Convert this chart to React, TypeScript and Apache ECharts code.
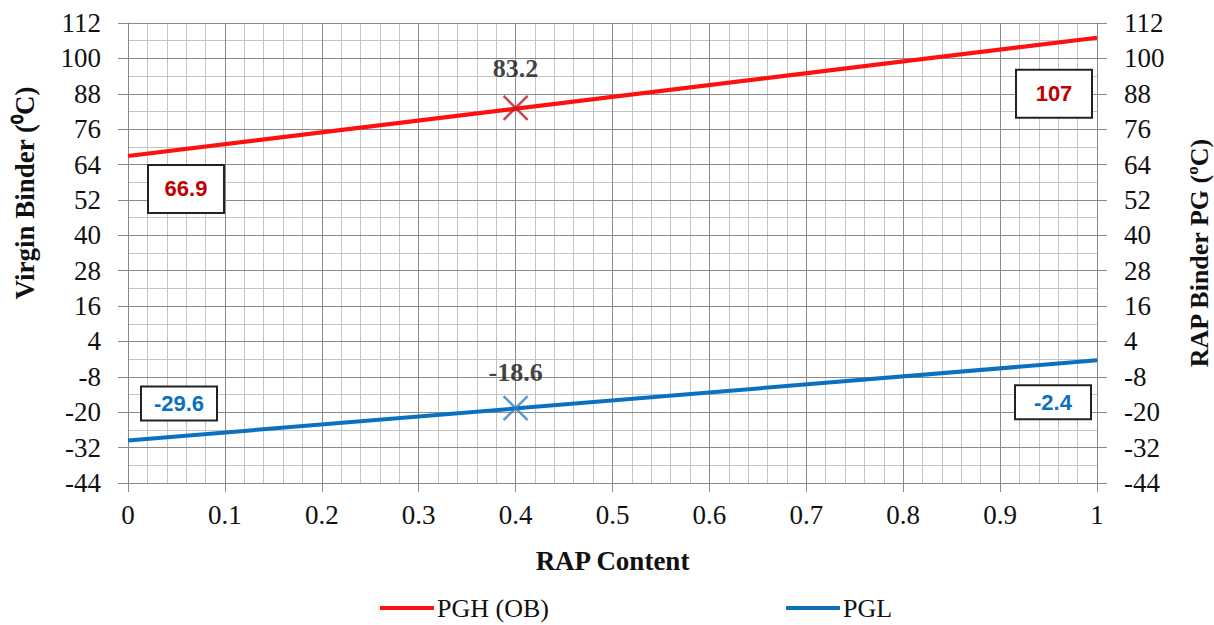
import React, { useEffect, useRef } from "react";
import * as echarts from "echarts";

const xEnds = [0, 1];
const pghEnds = [66.9, 107];
const pglEnds = [-29.6, -2.4];
const markX = 0.4;
const pghMark = 83.2;
const pglMark = -18.6;
const yTicks = [-44, -32, -20, -8, 4, 16, 28, 40, 52, 64, 76, 88, 100, 112];
const seriesNames = ["PGH (OB)", "PGL"];

const RED = "#FF1010";
const RED_TXT = "#C00000";
const RED_X = "#C0141E";
const BLUE = "#0A70C0";
const BLUE_X = "#2E80C8";
const SERIF = "'Liberation Serif', 'Times New Roman', serif";
const SANS = "'Liberation Sans', Arial, sans-serif";

function boxLabel(color: string, offset: number[], h: number) {
  return {
    show: true,
    position: "inside",
    offset,
    formatter: (p: any) => String(p.value[1]),
    color,
    fontFamily: SANS,
    fontWeight: "bold",
    fontSize: 22,
    width: 74,
    height: h,
    lineHeight: h,
    align: "center",
    verticalAlign: "middle",
    borderColor: "#222",
    borderWidth: 2,
    backgroundColor: "#fff",
    padding: 0,
  };
}

export default function App() {
  const ref = useRef<HTMLDivElement>(null);
  useEffect(() => {
    const chart = echarts.init(ref.current!, null, { renderer: "svg" });
    const pghOffsets = [[58, 33], [-43, 56]];
    const pglOffsets = [[51, -37], [-44, 42]];
    const yMin = yTicks[0];
    const yMax = yTicks[yTicks.length - 1];
    const yStep = yTicks[1] - yTicks[0];
    const hidden = { show: false };
    const yAxisBase = (pos: string) => ({
      type: "value",
      position: pos,
      min: yMin,
      max: yMax,
      interval: yStep,
      z: 2,
      axisLine: { show: true, onZero: false, lineStyle: { color: "#888", width: 1 } },
      axisTick: { show: true, length: 10, lineStyle: { color: "#888" } },
      axisLabel: { color: "#111", fontFamily: SERIF, fontSize: 27, margin: 27 },
      splitLine: { show: pos === "left", lineStyle: { color: "#8a8a8a", width: 1 } },
    });
    chart.setOption({
      animation: false,
      backgroundColor: "#fff",
      grid: { left: 128, right: 117, top: 23, bottom: 142, containLabel: false },
      xAxis: [
        {
          type: "value",
          min: 0,
          max: 1,
          interval: 0.1,
          z: 2,
          axisLine: { show: true, onZero: false, lineStyle: { color: "#888", width: 1 } },
          axisTick: { show: true, length: 9, lineStyle: { color: "#888" } },
          axisLabel: {
            color: "#111",
            fontFamily: SERIF,
            fontSize: 27,
            margin: 18,
            formatter: (v: number) => String(Math.round(v * 10) / 10),
          },
          splitLine: { show: true, lineStyle: { color: "#8a8a8a", width: 1 } },
          name: "RAP Content",
          nameLocation: "middle",
          nameGap: 64,
          nameTextStyle: { color: "#111", fontFamily: SERIF, fontWeight: "bold", fontSize: 27 },
        },
        {
          type: "value",
          min: 0,
          max: 1,
          interval: 0.02,
          z: 1,
          axisLine: { show: false, onZero: false },
          axisTick: hidden,
          axisLabel: hidden,
          splitLine: { show: true, lineStyle: { color: "#c4c4c4", width: 1 } },
        },
      ],
      yAxis: [
        yAxisBase("left"),
        yAxisBase("right"),
        {
          type: "value",
          min: yMin,
          max: yMax,
          interval: yStep / 2,
          z: 1,
          axisLine: { show: false, onZero: false },
          axisTick: hidden,
          axisLabel: hidden,
          splitLine: { show: true, lineStyle: { color: "#c4c4c4", width: 1 } },
        },
      ],
      legend: [
        {
          data: [seriesNames[0]],
          left: 375,
          top: 590,
          icon: "rect",
          itemWidth: 54,
          itemHeight: 4,
          itemGap: 4,
          textStyle: { color: "#111", fontFamily: SERIF, fontSize: 26, padding: [0, 0, 0, -2] },
        },
        {
          data: [seriesNames[1]],
          left: 781,
          top: 590,
          icon: "rect",
          itemWidth: 54,
          itemHeight: 4,
          itemGap: 4,
          textStyle: { color: "#111", fontFamily: SERIF, fontSize: 26, padding: [0, 0, 0, -2] },
        },
      ],
      graphic: [
        {
          type: "text",
          x: 25,
          y: 193,
          rotation: Math.PI / 2,
          style: {
            text: "Virgin Binder (⁰C)",
            fill: "#111",
            font: `bold 27px ${SERIF}`,
            align: "center",
            verticalAlign: "middle",
          },
        },
        {
          type: "text",
          x: 1199,
          y: 253,
          rotation: Math.PI / 2,
          style: {
            text: "RAP Binder PG (ºC)",
            fill: "#111",
            font: `bold 26px ${SERIF}`,
            align: "center",
            verticalAlign: "middle",
          },
        },
      ],
      series: [
        {
          name: seriesNames[0],
          type: "line",
          color: RED,
          lineStyle: { color: RED, width: 4 },
          symbol: "circle",
          symbolSize: 0.1,
          showSymbol: true,
          data: xEnds.map((x, i) => ({
            value: [x, pghEnds[i]],
            label: boxLabel(RED_TXT, pghOffsets[i], 46),
          })),
          z: 3,
        },
        {
          name: seriesNames[1],
          type: "line",
          color: BLUE,
          lineStyle: { color: BLUE, width: 4 },
          symbol: "circle",
          symbolSize: 0.1,
          showSymbol: true,
          data: xEnds.map((x, i) => ({
            value: [x, pglEnds[i]],
            label: boxLabel(BLUE, pglOffsets[i], 32),
          })),
          z: 3,
        },
        {
          name: "pghMark",
          type: "scatter",
          symbol: "path://M0,0L10,10M10,0L0,10",
          symbolSize: 24,
          itemStyle: { color: "rgba(0,0,0,0)", borderColor: RED_X, borderWidth: 2.5 },
          label: {
            show: true,
            position: "top",
            distance: 13,
            formatter: (p: any) => String(p.value[1]),
            color: "#111",
            fontFamily: SERIF,
            fontWeight: "bold",
            fontSize: 26,
          },
          data: [[markX, pghMark]],
          z: 4,
        },
        {
          name: "pglMark",
          type: "scatter",
          symbol: "path://M0,0L10,10M10,0L0,10",
          symbolSize: 24,
          itemStyle: { color: "rgba(0,0,0,0)", borderColor: BLUE_X, borderWidth: 2.5 },
          label: {
            show: true,
            position: "top",
            distance: 9,
            formatter: (p: any) => String(p.value[1]),
            color: "#111",
            fontFamily: SERIF,
            fontWeight: "bold",
            fontSize: 26,
          },
          data: [[markX, pglMark]],
          z: 4,
        },
      ],
    });
    return () => chart.dispose();
  }, []);
  return <div ref={ref} style={{ width: 1214, height: 625, position: "absolute", left: 0, top: 0 }} />;
}
